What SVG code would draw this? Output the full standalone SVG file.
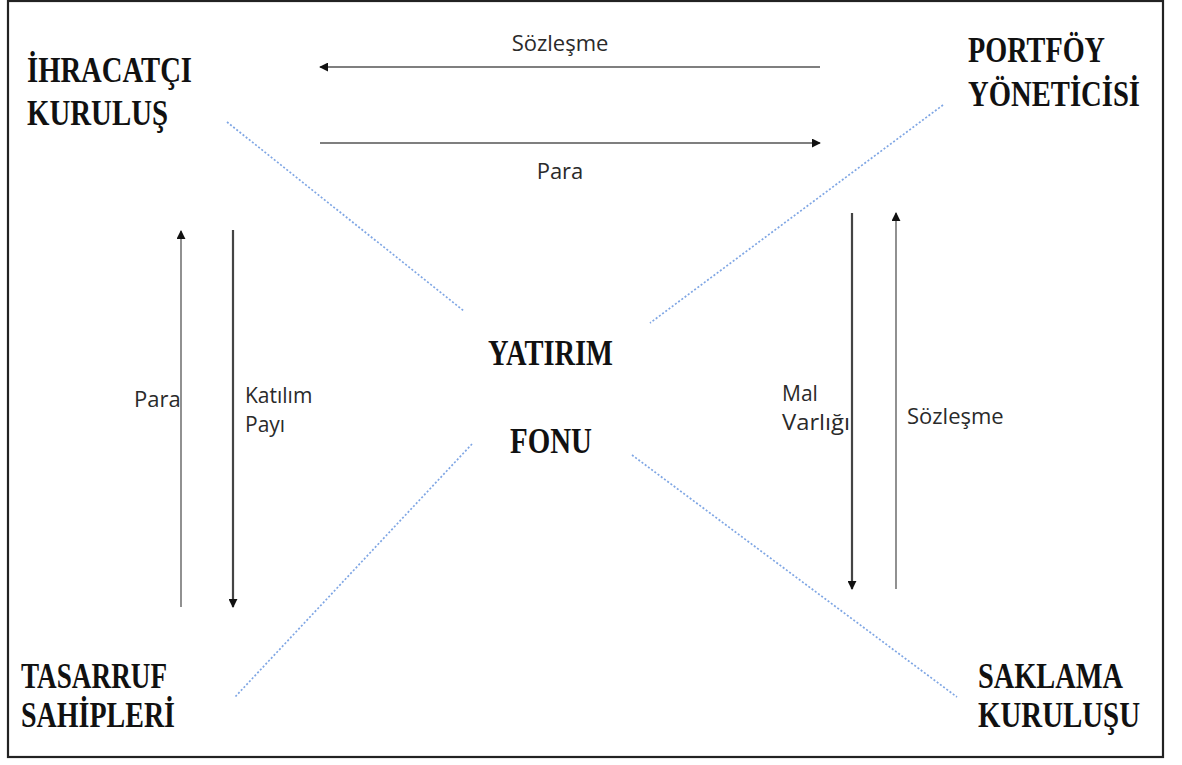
<svg xmlns="http://www.w3.org/2000/svg" width="1182" height="765" viewBox="0 0 1182 765">
  <style>
    .node { font-family: "Liberation Serif", "Times New Roman", serif; font-weight: bold; font-size: 36px; fill: #111; }
    .lbl { font-family: "Open Sans", "Noto Sans", sans-serif; font-size: 22px; fill: #2a2a2a; }
    .lbl2 { font-size: 21px; }
    .flow { stroke: #555; stroke-width: 1.3; fill: none; }
    .flow-b { stroke: #444; stroke-width: 2.2; fill: none; }
    .link { stroke: #7fa6e4; stroke-width: 1.7; stroke-dasharray: 2 2; fill: none; }
  </style>
  <defs>
    <marker id="head" viewBox="0 0 10 10" refX="9" refY="5" markerWidth="9" markerHeight="9" markerUnits="userSpaceOnUse" orient="auto">
      <path d="M0,0 L10,5 L0,10 z" fill="#111"/>
    </marker>
  </defs>

  <rect x="0" y="0" width="1182" height="765" fill="#fff"/>
  <rect x="8" y="1" width="1155" height="756" fill="none" stroke="#222" stroke-width="2.2"/>

  <g id="connectors">
    <!-- dotted links to the fund -->
    <line class="link" x1="227" y1="122" x2="464" y2="311"/>
    <line class="link" x1="943" y1="105" x2="650" y2="323"/>
    <line class="link" x1="472" y1="444" x2="235" y2="697"/>
    <line class="link" x1="632" y1="455" x2="957" y2="697"/>

    <!-- top flows -->
    <line class="flow" x1="820" y1="67" x2="320" y2="67" marker-end="url(#head)"/>
    <line class="flow" x1="320" y1="143" x2="820" y2="143" marker-end="url(#head)"/>

    <!-- left flows -->
    <line class="flow" x1="181" y1="607" x2="181" y2="231" marker-end="url(#head)"/>
    <line class="flow-b" x1="233" y1="230" x2="233" y2="607" marker-end="url(#head)"/>

    <!-- right flows -->
    <line class="flow-b" x1="852" y1="213" x2="852" y2="589" marker-end="url(#head)"/>
    <line class="flow" x1="896" y1="589" x2="896" y2="213" marker-end="url(#head)"/>

    <text class="lbl" x="560" y="51" text-anchor="middle">Sözleşme</text>
    <text class="lbl" x="560" y="179" text-anchor="middle">Para</text>
    <text class="lbl" x="134" y="407">Para</text>
    <text class="lbl lbl2" x="245" y="403">Katılım</text>
    <text class="lbl lbl2" x="245" y="432">Payı</text>
    <text class="lbl lbl2" x="782" y="401">Mal</text>
    <text class="lbl lbl2" x="782" y="430" textLength="68" lengthAdjust="spacingAndGlyphs">Varlığı</text>
    <text class="lbl" x="907" y="424">Sözleşme</text>
  </g>

  <g id="ihracatci-kurulus">
    <text class="node" x="27" y="82" textLength="165" lengthAdjust="spacingAndGlyphs">İHRACATÇI</text>
    <text class="node" x="27" y="125" textLength="141" lengthAdjust="spacingAndGlyphs">KURULUŞ</text>
  </g>
  <g id="portfoy-yoneticisi">
    <text class="node" x="968" y="62" textLength="137" lengthAdjust="spacingAndGlyphs">PORTFÖY</text>
    <text class="node" x="968" y="106" textLength="172" lengthAdjust="spacingAndGlyphs">YÖNETİCİSİ</text>
  </g>
  <g id="yatirim-fonu">
    <text class="node" x="488" y="365" textLength="125" lengthAdjust="spacingAndGlyphs">YATIRIM</text>
    <text class="node" x="510" y="453" textLength="82" lengthAdjust="spacingAndGlyphs">FONU</text>
  </g>
  <g id="tasarruf-sahipleri">
    <text class="node" x="21" y="688" textLength="146" lengthAdjust="spacingAndGlyphs">TASARRUF</text>
    <text class="node" x="21" y="727" textLength="154" lengthAdjust="spacingAndGlyphs">SAHİPLERİ</text>
  </g>
  <g id="saklama-kurulusu">
    <text class="node" x="978" y="688" textLength="145" lengthAdjust="spacingAndGlyphs">SAKLAMA</text>
    <text class="node" x="978" y="727" textLength="162" lengthAdjust="spacingAndGlyphs">KURULUŞU</text>
  </g>
</svg>
